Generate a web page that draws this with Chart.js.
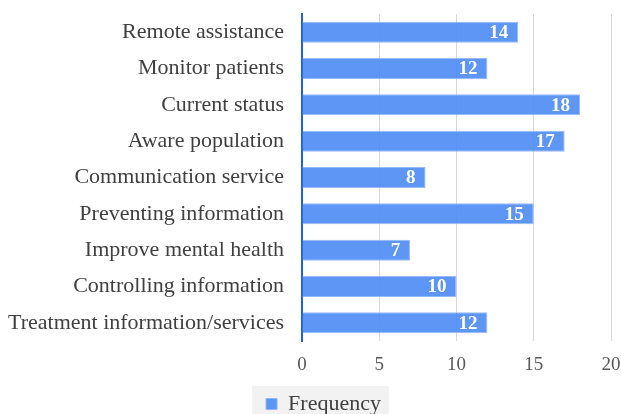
<!DOCTYPE html>
<html lang="en">
<head>
<meta charset="UTF-8">
<title>Frequency</title>
<script src="https://cdn.jsdelivr.net/npm/chart.js"></script>
<style>
  html, body { margin: 0; padding: 0; background: #fff; }
  #wrap { width: 621px; height: 414px; }
</style>
</head>
<body>
<div id="wrap"><canvas id="ctx"></canvas></div>
<script>
const categories = [
  'Remote assistance',
  'Monitor patients',
  'Current status',
  'Aware population',
  'Communication service',
  'Preventing information',
  'Improve mental health',
  'Controlling information',
  'Treatment information/services'
];
const frequency = [14, 12, 18, 17, 8, 15, 7, 10, 12];
const xTicks = [0, 5, 10, 15, 20];

const serif = "'Liberation Serif', serif";
Chart.defaults.font.family = serif;

// white bold numbers at the end of each bar
const valueLabels = {
  id: 'valueLabels',
  afterDatasetsDraw(chart) {
    const c = chart.ctx;
    const meta = chart.getDatasetMeta(0);
    c.save();
    c.fillStyle = '#ffffff';
    c.font = 'bold 19px ' + serif;
    c.textAlign = 'right';
    c.textBaseline = 'middle';
    meta.data.forEach((bar, i) => {
      c.fillText(String(frequency[i]), bar.x - 10, bar.y + 1);
    });
    c.restore();
  }
};

// legend sits a bit right of centre, on a light grey box
const legendBg = {
  id: 'legendBg',
  afterLayout(chart) {
    chart.legend.left += 16;
    chart.legend.right += 16;
  },
  beforeDraw(chart) {
    const lg = chart.legend;
    if (!lg || !lg.legendHitBoxes || !lg.legendHitBoxes.length) return;
    const h = lg.legendHitBoxes[0];
    const c = chart.ctx;
    c.save();
    c.fillStyle = '#f2f2f2';
    c.fillRect(h.left - 14, 386, h.width + 22, 28);
    c.restore();
  }
};

new Chart(document.getElementById('ctx'), {
  type: 'bar',
  data: {
    labels: categories,
    datasets: [{
      label: 'Frequency',
      data: frequency,
      backgroundColor: 'rgba(79, 141, 243, 0.92)',
      borderColor: 'rgba(140, 180, 248, 0.9)',
      borderWidth: 1,
      categoryPercentage: 1,
      barPercentage: 0.58
    }]
  },
  options: {
    indexAxis: 'y',
    responsive: true,
    maintainAspectRatio: false,
    animation: false,
    layout: { padding: { top: 14, right: 10, left: 4, bottom: -11 } },
    scales: {
      x: {
        min: 0,
        max: 20,
        afterBuildTicks(axis) { axis.ticks = xTicks.map(v => ({ value: v })); },
        afterFit(axis) { axis.height = 46; axis.paddingLeft = 0; axis.paddingRight = 0; },
        grid: { color: '#d9d9d9', lineWidth: 1, drawTicks: false },
        border: { display: false },
        ticks: { color: '#595959', font: { family: serif, size: 19 }, padding: 13 }
      },
      y: {
        afterFit(axis) { axis.width = 298; axis.paddingTop = 0; axis.paddingBottom = 0; },
        grid: { display: false, drawTicks: false },
        border: { display: true, color: '#1f63dc', width: 2 },
        ticks: { color: '#404040', font: { family: serif, size: 22 }, padding: 18 }
      }
    },
    plugins: {
      legend: {
        position: 'bottom',
        labels: {
          color: '#404040',
          font: { family: serif, size: 22 },
          boxWidth: 11,
          boxHeight: 11,
          padding: 6
        }
      },
      tooltip: { enabled: false }
    }
  },
  plugins: [legendBg, valueLabels]
});
</script>
</body>
</html>
